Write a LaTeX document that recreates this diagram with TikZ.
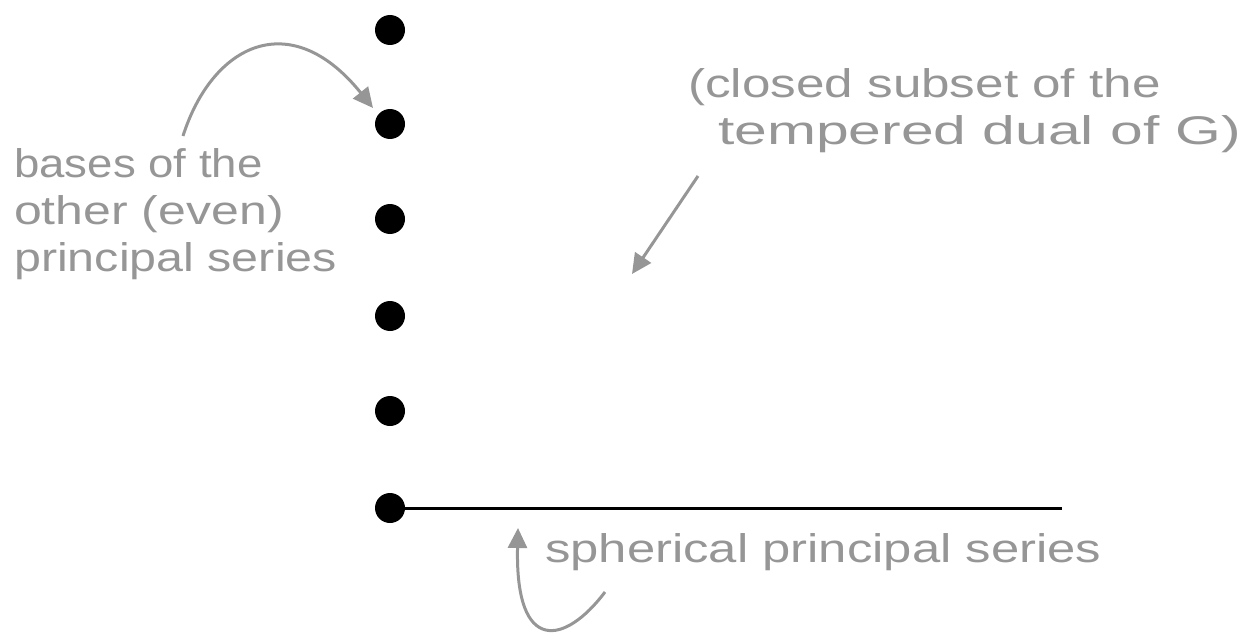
\documentclass[tikz,border=0pt]{standalone}
\usepackage{fontspec}
\setmainfont{Liberation Sans}
\usetikzlibrary{arrows.meta}
\definecolor{pen}{RGB}{150,150,150}
\tikzset{
  dot/.style={circle,fill=black,inner sep=0pt,minimum size=30pt},
  note/.style={text=pen,font=\fontsize{40}{47}\selectfont,align=left,inner sep=0pt},
  pointer/.style={draw=pen,line width=3pt,-{Triangle[length=20pt,width=19pt]}}
}
\newcommand{\wide}[2]{\scalebox{#1}[1]{#2}}
\begin{document}
\begin{tikzpicture}[x=1pt,y=-1pt]
\useasboundingbox (0,0) rectangle (1243,642);
\node[dot] (d1) at (390,30) {};
\node[dot] (d2) at (390,124) {};
\node[dot] (d3) at (390,219) {};
\node[dot] (d4) at (390,316) {};
\node[dot] (d5) at (390,411) {};
\node[dot] (d6) at (390,508) {};
\coordinate (lineend) at (1062,508);
\draw[line width=3pt] (d6.center) -- (lineend);

\node[note,anchor=north west] (left) at (14,148)
  {\wide{1.14}{bases of the}\\\wide{1.25}{other (even)}\\\wide{1.21}{principal series}};
\node[note,anchor=north west] (right) at (688,68)
  {\wide{1.28}{(closed subset of the}\\\hspace*{30pt}\wide{1.47}{tempered dual of G)}};
\node[note,anchor=north west] (bottom) at (545,533) {\wide{1.27}{spherical principal series}};

\coordinate (a1s) at (183,136);
\coordinate (a1e) at (373,108);
\draw[pointer] (a1s) .. controls (212,45) and (290,5) .. (a1e);
\coordinate (a2s) at (698,176);
\coordinate (a2e) at (632,274);
\draw[pointer] (a2s) -- (a2e);
\coordinate (a3s) at (605,592);
\coordinate (a3e) at (518,528);
\draw[pointer] (a3s) .. controls (565,645) and (515,655) .. (a3e);
\end{tikzpicture}
\end{document}
